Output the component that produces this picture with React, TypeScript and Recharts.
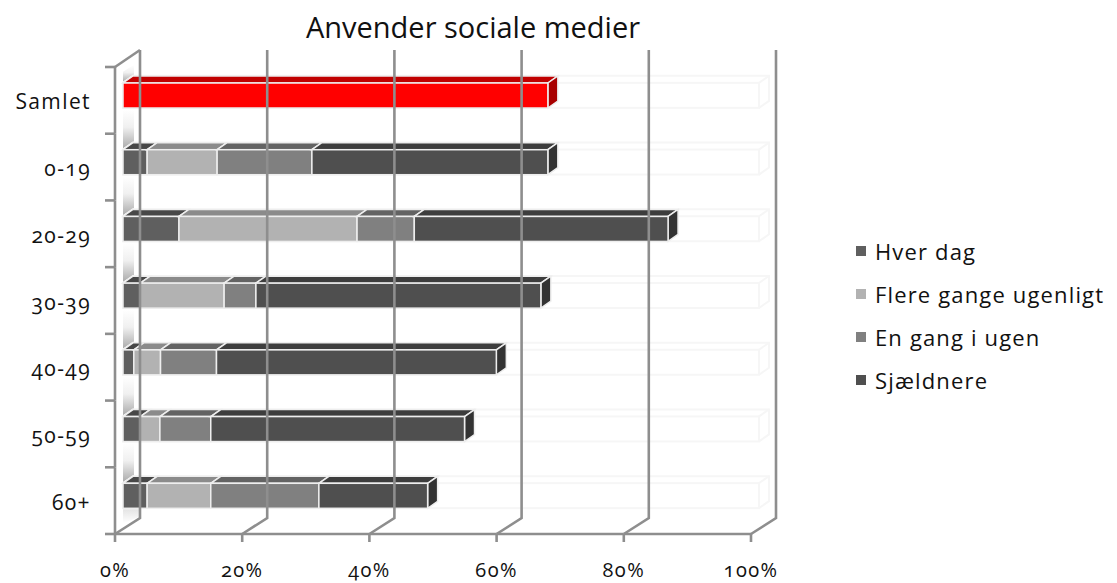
import { BarChart, Bar, XAxis, YAxis, Legend } from 'recharts'

const categories = ['Samlet', '0-19', '20-29', '30-39', '40-49', '50-59', '60+']
const hverDag = [0, 3.8, 8.8, 2.7, 1.7, 2.7, 3.8]
const flereGange = [0, 11, 28, 13.2, 4.2, 3.1, 10]
const enGang = [0, 14.9, 9, 5, 8.8, 8, 17]
const sjaeldnere = [0, 37.1, 39.9, 44.8, 44, 39.9, 17.1]
const samlet = [66.8, 0, 0, 0, 0, 0, 0]
const xTicks = [0, 20, 40, 60, 80, 100]

const rows = categories.map((name, i) => ({
  name,
  hverDag: hverDag[i],
  flereGange: flereGange[i],
  enGang: enGang[i],
  sjaeldnere: sjaeldnere[i],
  samlet: samlet[i],
}))

const WIDTH = 1117
const HEIGHT = 583
const PLOT = { top: 62, bottom: 529, left: 123, right: 759 }
const BAR_SIZE = 25
const DEPTH_X = 10
const DEPTH_Y = 7
const AXIS_COLOR = '#8e8e8e'
const AXIS_WIDTH = 2.6
const FONT = '"Open Sans", Lato, sans-serif'
const TEXT_COLOR = '#111111'

const poly = (pts: number[][]) => pts.map((p) => p.join(',')).join(' ')

// one extruded bar segment: front face, top face and optional end cap
function box3d(
  p: any,
  front: string,
  top: string,
  side: string | null,
) {
  const { x, y, width, height } = p
  if (!width || width <= 0) return <g />
  const edge = '#eeeeee'
  return (
    <g>
      <polygon
        points={poly([
          [x, y],
          [x + DEPTH_X, y - DEPTH_Y],
          [x + width + DEPTH_X, y - DEPTH_Y],
          [x + width, y],
        ])}
        fill={top}
        stroke={edge}
        strokeWidth={1.5}
      />
      {side && (
        <polygon
          points={poly([
            [x + width, y],
            [x + width + DEPTH_X, y - DEPTH_Y],
            [x + width + DEPTH_X, y + height - DEPTH_Y],
            [x + width, y + height],
          ])}
          fill={side}
          stroke={edge}
          strokeWidth={1.5}
        />
      )}
      <rect x={x} y={y} width={width} height={height} fill={front} stroke={edge} strokeWidth={1.5} />
    </g>
  )
}

// faint 0-100% box behind each row, plus the shaded wall patch above it
function GhostRow(p: any) {
  const { x, width, index } = p
  const band = (PLOT.bottom - PLOT.top) / categories.length
  const y = PLOT.top + band * index + (band - BAR_SIZE) / 2
  const h = BAR_SIZE
  const stroke = '#f6f6f6'
  const patchTop = index === 0 ? y - 18 : y - 40
  const isLast = index === categories.length - 1
  return (
    <g>
      <polygon
        points={poly([
          [x, index === 0 ? y - 11 : patchTop],
          [x + 11, patchTop],
          [x + 11, y - 8],
          [x, y - 1],
        ])}
        fill="url(#wallFade)"
      />
      {isLast && (
        <polygon
          points={poly([
            [x, y + h + 1],
            [x + 18, y + h + 1],
            [x + 18, y + h + 8],
            [x, y + h + 15],
          ])}
          fill="url(#floorFade)"
        />
      )}
      <g fill="none" stroke={stroke} strokeWidth={2}>
        <rect x={x} y={y} width={width} height={h} />
        <polyline
          points={poly([
            [x, y],
            [x + DEPTH_X, y - DEPTH_Y],
            [x + width + DEPTH_X, y - DEPTH_Y],
            [x + width + DEPTH_X, y + h - DEPTH_Y],
            [x + width, y + h],
          ])}
        />
        <line x1={x + width} y1={y} x2={x + width + DEPTH_X} y2={y - DEPTH_Y} />
      </g>
    </g>
  )
}

// category label, front wall axis and the tick between rows
function CategoryTick(p: any) {
  const { y, payload, index } = p
  const band = (PLOT.bottom - PLOT.top) / categories.length
  const ax = 115
  const yTop = y - band / 2 + 5
  const yBot = y + band / 2 + 5
  return (
    <g>
      <line x1={ax} y1={yTop} x2={ax} y2={yBot} stroke={AXIS_COLOR} strokeWidth={AXIS_WIDTH} />
      <line x1={ax - 10} y1={yTop} x2={ax} y2={yTop} stroke={AXIS_COLOR} strokeWidth={AXIS_WIDTH} />
      {index === categories.length - 1 && (
        <line x1={ax - 10} y1={yBot} x2={ax} y2={yBot} stroke={AXIS_COLOR} strokeWidth={AXIS_WIDTH} />
      )}
      <text
        x={91}
        y={y + 14}
        textAnchor="end"
        fontFamily={FONT}
        fontSize={21}
        letterSpacing={1.4}
        fill={TEXT_COLOR}
        style={{ fontVariantNumeric: 'oldstyle-nums' }}
      >
        {payload.value}
      </text>
    </g>
  )
}

// percent label, floor tick and the gridline folding up the back wall
function PercentTick(p: any) {
  const { x, payload } = p
  const floorY = PLOT.bottom + 5
  const fx = x - 8
  const step = ((PLOT.right - PLOT.left) * 20) / 100
  return (
    <g>
      <polyline
        points={poly([
          [fx, floorY],
          [fx + 25, floorY - 16],
          [fx + 25, 50],
        ])}
        fill="none"
        stroke={AXIS_COLOR}
        strokeWidth={AXIS_WIDTH}
      />
      {payload.value === 0 && (
        <line x1={fx} y1={PLOT.top + 5} x2={fx + 25} y2={50} stroke={AXIS_COLOR} strokeWidth={AXIS_WIDTH} />
      )}
      {payload.value < 100 && (
        <line x1={fx} y1={floorY} x2={fx + step} y2={floorY} stroke={AXIS_COLOR} strokeWidth={AXIS_WIDTH} />
      )}
      <line x1={fx} y1={floorY} x2={fx} y2={floorY + 8} stroke={AXIS_COLOR} strokeWidth={AXIS_WIDTH} />
      <text
        x={fx}
        y={577}
        textAnchor="middle"
        fontFamily={FONT}
        fontSize={20}
        letterSpacing={1.4}
        fill={TEXT_COLOR}
        style={{ fontVariantNumeric: 'oldstyle-nums' }}
      >
        {`${payload.value}%`}
      </text>
    </g>
  )
}

function LegendList({ payload }: any) {
  const items = (payload || []).filter((item: any) => item.type !== 'none')
  return (
    <div>
      {items.map((item: any) => (
        <div
          key={item.value}
          style={{
            display: 'flex',
            alignItems: 'center',
            height: 43,
            fontFamily: FONT,
            fontSize: 22,
            letterSpacing: 1.15,
            color: TEXT_COLOR,
            whiteSpace: 'nowrap',
          }}
        >
          <span
            style={{ width: 10, height: 10, marginRight: 9, background: item.color }}
          />
          {item.value}
        </div>
      ))}
    </div>
  )
}

export default function App() {
  return (
    <div style={{ position: 'absolute', left: 0, top: 0, width: WIDTH, height: HEIGHT, background: '#fff' }}>
      <div
        style={{
          position: 'absolute',
          left: 0,
          top: 7,
          width: 946,
          textAlign: 'center',
          fontFamily: FONT,
          fontSize: 29,
          color: '#111',
          zIndex: 2,
        }}
      >
        Anvender sociale medier
      </div>
      <BarChart
        width={WIDTH}
        height={HEIGHT}
        data={rows}
        layout="vertical"
        barSize={BAR_SIZE}
        margin={{
          top: PLOT.top,
          right: WIDTH - PLOT.right,
          left: 0,
          bottom: 0,
        }}
      >
        <defs>
          <linearGradient id="wallFade" x1="0" y1="0" x2="0" y2="1">
            <stop offset="0%" stopColor="#ffffff" />
            <stop offset="45%" stopColor="#f0f0f0" />
            <stop offset="100%" stopColor="#aaaaaa" />
          </linearGradient>
          <linearGradient id="floorFade" x1="0" y1="0" x2="0" y2="1">
            <stop offset="0%" stopColor="#e4e4e4" />
            <stop offset="100%" stopColor="#ffffff" />
          </linearGradient>
        </defs>
        <XAxis
          type="number"
          domain={[0, 100]}
          ticks={xTicks}
          interval={0}
          height={HEIGHT - PLOT.bottom}
          axisLine={false}
          tickLine={false}
          tickSize={0}
          tick={PercentTick}
        />
        <YAxis
          type="category"
          dataKey="name"
          width={PLOT.left}
          interval={0}
          axisLine={false}
          tickLine={false}
          tick={CategoryTick}
        />
        <Legend
          layout="vertical"
          align="center"
          verticalAlign="middle"
          itemSorter={null}
          content={LegendList}
          wrapperStyle={{ left: 856, top: 229, width: 261 }}
        />
        <Bar
          dataKey="hverDag"
          name="Hver dag"
          stackId="a"
          fill="#5f5f5f"
          isAnimationActive={false}
          background={GhostRow}
          shape={(p: any) => box3d(p, '#5f5f5f', '#474747', null)}
        />
        <Bar
          dataKey="flereGange"
          name="Flere gange ugenligt"
          stackId="a"
          fill="#b2b2b2"
          isAnimationActive={false}
          shape={(p: any) => box3d(p, '#b2b2b2', '#8b8b8b', null)}
        />
        <Bar
          dataKey="enGang"
          name="En gang i ugen"
          stackId="a"
          fill="#808080"
          isAnimationActive={false}
          shape={(p: any) => box3d(p, '#808080', '#636363', null)}
        />
        <Bar
          dataKey="sjaeldnere"
          name="Sjældnere"
          stackId="a"
          fill="#4f4f4f"
          isAnimationActive={false}
          shape={(p: any) => box3d(p, '#4f4f4f', '#3d3d3d', '#333333')}
        />
        <Bar
          dataKey="samlet"
          stackId="a"
          fill="#ff0000"
          legendType="none"
          isAnimationActive={false}
          shape={(p: any) => box3d(p, '#ff0000', '#c00000', '#a80000')}
        />
      </BarChart>
    </div>
  )
}
